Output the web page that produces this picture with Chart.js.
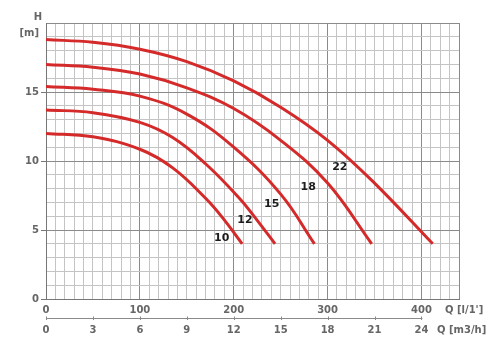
<!DOCTYPE html>
<html><head><meta charset="utf-8">
<script src="https://cdn.jsdelivr.net/npm/chart.js@4/dist/chart.umd.min.js"></script>
<style>html,body{margin:0;padding:0;background:#fff;}#wrap{width:500px;height:358px;}</style>
</head><body><div id="wrap"><canvas id="c" width="500" height="358"></canvas></div>
<script>
// Pump curves: flow Q [l/min] vs head H [m]
const curveNames = ['10', '12', '15', '18', '22'];
const q10 = [0, 50, 100, 135, 170, 188, 209];
const h10 = [12.0, 11.75, 10.85, 9.5, 7.3, 5.9, 4.0];
const q12 = [0, 50, 100, 135, 170, 206, 225, 244];
const h12 = [13.7, 13.5, 12.8, 11.7, 9.8, 7.3, 5.7, 4.0];
const q15 = [0, 50, 100, 150, 200, 250, 286];
const h15 = [15.4, 15.2, 14.7, 13.4, 11.0, 7.6, 4.0];
const q18 = [0, 50, 100, 150, 200, 250, 300, 347];
const h18 = [17.0, 16.8, 16.3, 15.3, 13.8, 11.5, 8.4, 4.0];
const q22 = [0, 50, 100, 150, 200, 250, 300, 350, 412];
const h22 = [18.8, 18.6, 18.1, 17.2, 15.8, 13.9, 11.5, 8.4, 4.0];
// curve label anchors (data units)
const labelQ = [187.2, 212, 240.4, 279.3, 313];
const labelH = [4.41, 5.69, 6.89, 8.12, 9.58];
// tick labels
const flowTicksLpm = [0, 100, 200, 300, 400];
const flowTicksM3h = [0, 3, 6, 9, 12, 15, 18, 21, 24];
const headTicks = [0, 5, 10, 15];
const flowUnitLpm = "Q [l/1']";
const flowUnitM3h = 'Q [m3/h]';
const headTitle = 'H';
const headUnit = '[m]';

const allQ = [q10, q12, q15, q18, q22];
const allH = [h10, h12, h15, h18, h22];

const FONT = 'DejaVu Sans';
const GREY = '#666';
const MINOR = '#c4c4c4';
const MAJOR = '#8a8a8a';

const datasets = curveNames.map((n, i) => ({
  label: n,
  data: allQ[i].map((q, k) => ({x: q, y: allH[i][k]})),
  borderColor: '#d42a2a',
  borderWidth: 3,
  pointRadius: 0,
  fill: false,
  tension: 0.4,
  borderCapStyle: 'butt'
}));

const extras = {
  id: 'extras',
  afterDraw(chart) {
    const {ctx, chartArea: a, scales} = chart;
    const x = scales.x, y = scales.y, x2 = scales.x2;
    ctx.save();
    // curve labels
    ctx.font = 'bold 11px "' + FONT + '"';
    ctx.fillStyle = '#1c1c1c';
    ctx.textAlign = 'center';
    ctx.textBaseline = 'middle';
    curveNames.forEach((n, i) => {
      ctx.fillText(n, x.getPixelForValue(labelQ[i]), y.getPixelForValue(labelH[i]));
    });
    // axis titles
    ctx.font = 'bold 10px "' + FONT + '"';
    ctx.fillStyle = GREY;
    ctx.textAlign = 'center';
    ctx.fillText(headTitle, a.left - 8, a.top - 6);
    ctx.textAlign = 'right';
    ctx.fillText(headUnit, a.left - 7, a.top + 10);
    ctx.textAlign = 'left';
    ctx.fillText(flowUnitLpm, a.right - 14, 310);
    ctx.fillText(flowUnitM3h, a.right - 22, 330);
    // secondary flow axis line
    ctx.strokeStyle = '#8a8a8a';
    ctx.lineWidth = 1;
    const ly = Math.round(x2.top) + 0.5;
    ctx.beginPath();
    ctx.moveTo(x2.getPixelForValue(flowTicksM3h[0]), ly);
    ctx.lineTo(x2.getPixelForValue(flowTicksM3h[flowTicksM3h.length - 1]) + 1, ly);
    ctx.stroke();
    flowTicksM3h.forEach(v => {
      const px = Math.round(x2.getPixelForValue(v)) + 0.5;
      ctx.beginPath();
      ctx.moveTo(px, ly - 2);
      ctx.lineTo(px, ly + 1.5);
      ctx.stroke();
    });
    ctx.restore();
  }
};

new Chart(document.getElementById('c'), {
  type: 'line',
  data: {datasets},
  options: {
    responsive: false,
    animation: false,
    devicePixelRatio: 1,
    layout: {padding: {top: 23, right: 41, left: 0, bottom: 0}},
    plugins: {legend: {display: false}, tooltip: {enabled: false}},
    scales: {
      x: {
        type: 'linear', position: 'bottom', min: 0, max: 440,
        afterFit: s => { s.height = 19; },
        ticks: {
          stepSize: 10, autoSkip: false, maxRotation: 0, padding: 5,
          color: GREY, font: {family: FONT, size: 10, weight: 'bold'},
          callback: v => flowTicksLpm.includes(Math.round(v)) ? String(Math.round(v)) : ''
        },
        grid: {
          drawTicks: false,
          color: c => { const v = Math.round(c.tick.value); return (v % 100 === 0 || v === 440) ? MAJOR : MINOR; }
        },
        border: {display: true, color: '#777'}
      },
      x2: {
        type: 'linear', position: 'bottom', min: 0, max: 26.4,
        afterFit: s => { s.height = 40; },
        ticks: {
          stepSize: 3, includeBounds: false, autoSkip: false, maxRotation: 0, padding: 6,
          color: GREY, font: {family: FONT, size: 10, weight: 'bold'},
          callback: v => flowTicksM3h.includes(Math.round(v)) ? String(Math.round(v)) : ''
        },
        grid: {display: false, drawTicks: false},
        border: {display: false}
      },
      y: {
        type: 'linear', min: 0, max: 20,
        afterFit: s => { s.width = 46; },
        ticks: {
          stepSize: 1, autoSkip: false, padding: 2,
          color: GREY, font: {family: FONT, size: 10, weight: 'bold'},
          callback: v => headTicks.includes(Math.round(v)) ? String(Math.round(v)) : ''
        },
        grid: {
          tickLength: 5,
          color: c => (Math.round(c.tick.value) % 5 === 0) ? MAJOR : MINOR,
          tickColor: c => headTicks.includes(Math.round(c.tick.value)) ? '#777' : 'rgba(0,0,0,0)'
        },
        border: {display: true, color: '#777'}
      }
    }
  },
  plugins: [extras]
});
</script>
</body></html>
